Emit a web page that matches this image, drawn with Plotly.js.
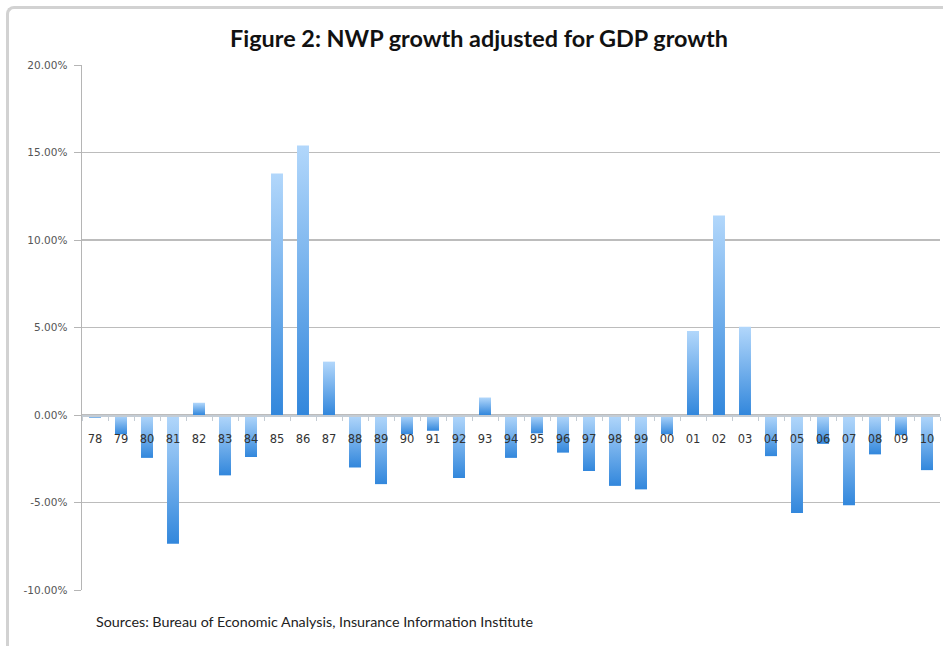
<!DOCTYPE html>
<html>
<head>
<meta charset="utf-8">
<script src="https://cdn.plot.ly/plotly-3.0.1.min.js"></script>
<style>
  html, body { margin: 0; padding: 0; background: #ffffff; }
  #wrap { position: relative; width: 943px; height: 646px; overflow: hidden; }
  #frame {
    position: absolute; left: 6px; top: 6px; width: 950px; height: 660px;
    border-left: 3px solid #d2d2d2; border-top: 3px solid #d2d2d2;
    border-top-left-radius: 8px; box-sizing: border-box;
  }
  #chart { position: absolute; left: 0; top: 0; width: 943px; height: 646px; }
</style>
</head>
<body>
<div id="wrap">
  <div id="frame"></div>
  <div id="chart"></div>
</div>
<script>
// Year labels (two-digit) and NWP growth adjusted for GDP growth, in percent
const years = ['78','79','80','81','82','83','84','85','86','87','88','89','90','91','92','93','94',
               '95','96','97','98','99','00','01','02','03','04','05','06','07','08','09','10'];
const adjustedGrowth = [-0.15, -1.1, -2.45, -7.35, 0.7, -3.45, -2.4, 13.8, 15.4, 3.05, -3.0, -3.95,
                        -1.1, -0.9, -3.6, 1.0, -2.45, -1.05, -2.15, -3.2, -4.05, -4.25, -1.1, 4.8,
                        11.4, 5.05, -2.35, -5.6, -1.65, -5.15, -2.25, -1.15, -3.15];
const yTicks = [-10, -5, 0, 5, 10, 15, 20];
const yTickLabels = ['-10.00%', '-5.00%', '0.00%', '5.00%', '10.00%', '15.00%', '20.00%'];

const yMin = -10, yMax = 20;

const trace = {
  type: 'bar',
  x: years,
  y: adjustedGrowth,
  marker: { color: '#5aa4ea', line: { width: 0 } },
  hoverinfo: 'x+y'
};

const layout = {
  width: 943,
  height: 646,
  paper_bgcolor: 'rgba(0,0,0,0)',
  plot_bgcolor: 'rgba(0,0,0,0)',
  margin: { l: 82, r: 3, t: 65, b: 56 },
  bargap: 0.54,
  showlegend: false,
  title: {
    text: '<b>Figure 2: NWP growth adjusted for GDP growth</b>',
    font: { family: 'Lato, sans-serif', size: 23.4, color: '#111111' },
    x: 0.508, xanchor: 'center',
    y: 0.94, yanchor: 'middle'
  },
  xaxis: {
    type: 'category',
    anchor: 'free',
    position: (0 - yMin) / (yMax - yMin),
    showline: true,
    linecolor: '#c4ccd4',
    linewidth: 1.5,
    ticks: 'outside',
    tickson: 'boundaries',
    ticklen: 4,
    tickcolor: '#c4ccd4',
    ticklabelstandoff: 13,
    tickfont: { family: 'DejaVu Sans', size: 11.5, color: '#333333' },
    showgrid: false,
    zeroline: false,
    fixedrange: true
  },
  yaxis: {
    range: [yMin, yMax],
    tickvals: yTicks,
    ticktext: yTickLabels,
    ticks: 'outside',
    ticklen: 7,
    tickcolor: '#b5b5b5',
    showline: true,
    linecolor: '#b5b5b5',
    linewidth: 1.5,
    showgrid: true,
    gridcolor: '#bcbcbc',
    gridwidth: 1.3,
    zeroline: false,
    tickfont: { family: 'DejaVu Sans', size: 10.5, color: '#555555' },
    ticklabelstandoff: 4,
    fixedrange: true
  },
  annotations: [{
    xref: 'paper', yref: 'paper',
    x: (94 - 82) / 858, y: -(621 - 590) / 525,
    xanchor: 'left', yanchor: 'middle',
    showarrow: false,
    text: 'Sources: Bureau of Economic Analysis, Insurance Information Institute',
    font: { family: 'Lato, sans-serif', size: 14.3, color: '#222222' }
  }]
};

Plotly.newPlot('chart', [trace], layout, { displayModeBar: false, staticPlot: true }).then(function (gd) {
  // Vertical light-to-dark shading on every bar
  const svgNS = 'http://www.w3.org/2000/svg';
  const svg = gd.querySelector('svg.main-svg');
  let defs = svg.querySelector('defs');
  if (!defs) { defs = document.createElementNS(svgNS, 'defs'); svg.insertBefore(defs, svg.firstChild); }
  const grad = document.createElementNS(svgNS, 'linearGradient');
  grad.setAttribute('id', 'barShade');
  grad.setAttribute('x1', '0'); grad.setAttribute('y1', '0');
  grad.setAttribute('x2', '0'); grad.setAttribute('y2', '1');
  [['0', '#b2d7fb'], ['1', '#3287dc']].forEach(function (s) {
    const stop = document.createElementNS(svgNS, 'stop');
    stop.setAttribute('offset', s[0]);
    stop.setAttribute('stop-color', s[1]);
    grad.appendChild(stop);
  });
  defs.appendChild(grad);
  gd.querySelectorAll('.barlayer .point path').forEach(function (p) {
    p.style.fill = 'url(#barShade)';
  });
});
</script>
</body>
</html>
